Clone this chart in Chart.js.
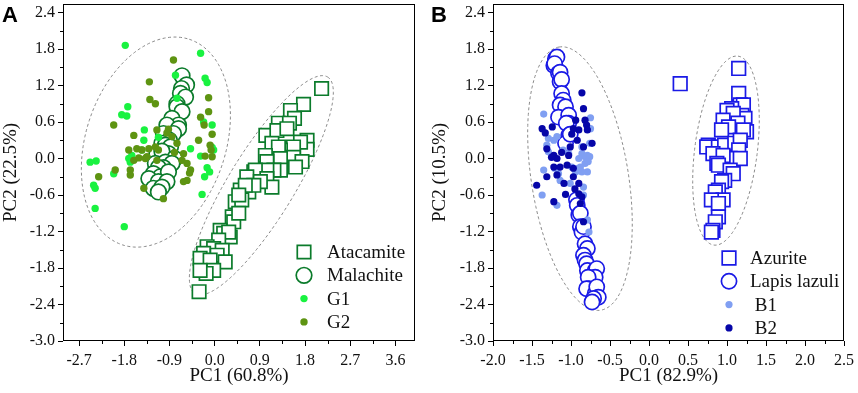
<!DOCTYPE html>
<html>
<head>
<meta charset="utf-8">
<script src="https://cdn.jsdelivr.net/npm/chart.js@4.4.1/dist/chart.umd.min.js"></script>
<style>
	html, body { margin: 0; padding: 0; background: #fff; }
	#wrap { position: relative; width: 858px; height: 393px; overflow: hidden; }
	canvas { position: absolute; top: 0; }
	#chartA { left: 0; }
	#chartB { left: 429px; }
</style>
</head>
<body>
<div id="wrap">
	<canvas id="chartA" width="429" height="393"></canvas>
	<canvas id="chartB" width="429" height="393"></canvas>
</div>
<script>
//-----------------Data-------------------//
const yTicks = [-3.0, -2.4, -1.8, -1.2, -0.6, 0.0, 0.6, 1.2, 1.8, 2.4];
const xTicksA = [-2.7, -1.8, -0.9, 0.0, 0.9, 1.8, 2.7, 3.6];
const xTicksB = [-2.0, -1.5, -1.0, -0.5, 0.0, 0.5, 1.0, 1.5, 2.0, 2.5];

// panel A: PC1 / PC2 scores
const atacamite = [[2.13,1.15],[1.77,0.89],[1.51,0.79],[1.59,0.66],[1.27,0.58],[1.49,0.58],[1.02,0.38],[1.24,0.46],[1.44,0.49],[1.84,0.30],[1.84,0.15],[1.71,0.27],[1.57,0.19],[1.31,0.14],[1.14,0.25],[1.27,0.19],[1.57,0.02],[1.74,-0.05],[1.01,0.05],[1.31,0.00],[1.04,-0.05],[1.31,-0.19],[1.61,-0.14],[1.18,-0.19],[0.78,-0.22],[1.04,-0.19],[0.81,-0.19],[0.75,-0.41],[1.04,-0.33],[1.14,-0.47],[0.64,-0.30],[0.91,-0.38],[0.51,-0.52],[0.68,-0.55],[0.78,-0.44],[0.61,-0.44],[0.41,-0.71],[0.54,-0.68],[0.48,-0.60],[0.35,-0.96],[0.38,-1.04],[0.48,-0.90],[0.11,-1.18],[0.18,-1.23],[0.31,-1.29],[0.28,-1.21],[0.08,-1.34],[-0.15,-1.45],[-0.02,-1.48],[0.15,-1.51],[-0.22,-1.56],[0.05,-1.59],[-0.29,-1.64],[-0.09,-1.67],[0.21,-1.70],[-0.02,-1.84],[-0.17,-1.89],[-0.29,-1.84],[-0.31,-2.19]];
const malachite = [[-0.65,1.36],[-0.56,1.21],[-0.66,1.15],[-0.68,1.07],[-0.58,1.01],[-0.75,0.90],[-0.75,0.85],[-0.65,0.77],[-0.85,0.66],[-0.72,0.55],[-0.95,0.55],[-0.72,0.49],[-0.82,0.41],[-1.02,0.41],[-0.90,0.30],[-1.05,0.25],[-0.98,0.22],[-0.88,0.19],[-1.15,0.08],[-0.92,0.08],[-1.05,0.12],[-0.80,0.00],[-1.18,-0.08],[-0.98,-0.06],[-0.85,-0.08],[-1.02,-0.15],[-1.12,-0.15],[-1.22,-0.25],[-1.08,-0.30],[-0.92,-0.22],[-1.31,-0.33],[-1.12,-0.38],[-0.95,-0.38],[-1.22,-0.49],[-1.05,-0.47],[-1.12,-0.55]];
const g1 = [[-1.78,1.86],[-0.28,1.73],[-0.78,1.37],[-0.19,1.32],[-0.15,1.25],[-0.75,0.99],[-1.73,0.85],[-1.85,0.72],[-1.75,0.70],[-0.22,0.60],[-0.05,0.55],[-1.40,0.47],[-1.41,0.30],[-1.45,0.14],[-0.48,0.16],[-0.28,0.04],[-0.02,0.14],[-0.05,0.18],[-0.15,-0.15],[-0.10,-0.22],[-0.20,-0.30],[-0.25,-0.59],[-1.71,0.00],[-1.68,-0.06],[-2.48,-0.06],[-2.36,-0.04],[-2.01,-0.25],[-2.41,-0.44],[-2.38,-0.49],[-2.38,-0.82],[-1.80,-1.12],[-1.12,0.35],[-1.65,0.05]];
const g2 = [[-0.82,1.62],[-1.30,1.26],[-1.29,0.97],[-1.18,0.90],[-2.01,0.55],[-1.61,0.38],[-0.12,1.00],[-0.12,0.77],[-0.28,0.68],[-0.21,0.55],[-0.05,0.40],[-0.32,0.30],[-0.09,0.22],[-0.07,0.14],[-0.19,0.04],[-0.05,0.03],[-1.15,0.47],[-0.92,0.48],[-0.85,0.36],[-0.95,0.42],[-0.62,0.08],[-0.65,-0.03],[-0.55,-0.08],[-0.48,-0.19],[-0.50,-0.24],[-0.55,-0.36],[-0.62,-0.38],[-1.71,0.14],[-1.55,0.16],[-1.45,0.14],[-1.31,0.16],[-1.18,0.19],[-1.61,-0.03],[-1.51,0.01],[-1.38,0.00],[-1.35,0.03],[-1.15,-0.03],[-1.98,-0.19],[-1.68,-0.19],[-1.68,-0.27],[-2.31,-0.30],[-1.41,-0.49],[-1.02,-0.66],[-1.12,0.14],[-0.75,0.25],[-0.80,0.10]];

// panel B: PC1 / PC2 scores
const azurite = [[0.40,1.23],[1.15,1.48],[1.15,1.07],[1.17,0.88],[1.21,0.88],[1.06,0.82],[1.00,0.79],[1.19,0.71],[1.23,0.66],[1.08,0.74],[0.95,0.63],[1.14,0.58],[1.02,0.52],[1.25,0.44],[1.21,0.47],[0.93,0.47],[0.76,0.22],[0.74,0.19],[0.89,0.19],[0.97,0.22],[1.10,0.25],[1.17,0.30],[1.15,0.14],[0.82,0.08],[1.04,0.00],[1.17,0.00],[0.95,0.05],[0.87,-0.08],[0.89,-0.11],[1.04,-0.19],[1.08,-0.25],[0.97,-0.36],[0.93,-0.38],[0.89,-0.52],[0.85,-0.55],[0.95,-0.68],[0.80,-0.68],[0.89,-0.74],[0.89,-0.96],[0.85,-1.04],[0.82,-1.18],[0.80,-1.21]];
const lapis = [[-1.20,1.64],[-1.18,1.67],[-1.22,1.53],[-1.21,1.56],[-1.16,1.40],[-1.14,1.42],[-1.14,1.26],[-1.12,1.30],[-1.12,1.07],[-1.10,0.96],[-1.14,0.88],[-1.07,0.85],[-1.16,0.68],[-1.03,0.71],[-1.03,0.58],[-1.06,0.58],[-1.03,0.38],[-1.07,0.25],[-1.01,0.40],[-0.93,-0.68],[-0.92,-0.77],[-0.90,-0.93],[-0.88,-0.90],[-0.88,-1.12],[-0.86,-1.21],[-0.84,-1.12],[-0.82,-1.40],[-0.79,-1.48],[-0.84,-1.59],[-0.82,-1.67],[-0.80,-1.73],[-0.79,-1.84],[-0.69,-1.84],[-0.67,-1.81],[-0.69,-1.95],[-0.78,-1.95],[-0.77,-2.14],[-0.80,-2.14],[-0.69,-2.22],[-0.67,-2.11],[-0.65,-2.28],[-0.71,-2.30],[-0.73,-2.36]];
const b1 = [[-1.35,0.73],[-0.75,0.67],[-0.75,0.49],[-1.29,0.33],[-1.31,0.22],[-1.29,0.11],[-1.18,0.36],[-1.22,0.30],[-0.86,0.19],[-0.76,0.25],[-0.86,0.08],[-0.79,0.05],[-0.90,0.00],[-0.82,0.03],[-0.76,0.03],[-0.82,-0.08],[-0.78,-0.05],[-0.79,-0.22],[-0.94,-0.22],[-0.86,-0.22],[-0.88,-0.14],[-0.99,-0.14],[-0.91,-0.16],[-1.35,-0.19],[-1.21,-0.16],[-1.16,-0.25],[-1.14,-0.36],[-1.01,-0.41],[-0.84,-0.47],[-1.37,-0.60],[-1.18,-0.77],[-0.79,-1.01],[-0.77,-1.21],[-1.10,0.14],[-1.03,0.08],[-0.84,-0.60]];
const b2 = [[-0.86,1.08],[-0.84,0.82],[-0.82,0.63],[-0.80,0.55],[-0.79,0.47],[-0.90,0.47],[-0.94,0.63],[-0.97,0.49],[-1.37,0.49],[-1.33,0.42],[-1.24,0.52],[-0.92,0.30],[-1.01,0.19],[-1.03,0.05],[-0.73,0.25],[-0.84,0.19],[-1.31,0.16],[-1.22,0.05],[-1.18,0.00],[-1.25,0.02],[-1.22,-0.14],[-1.14,-0.14],[-1.05,-0.11],[-0.97,-0.16],[-1.31,-0.30],[-1.18,-0.27],[-0.97,-0.30],[-0.90,-0.41],[-1.44,-0.44],[-1.09,-0.41],[-1.07,-0.59],[-0.90,-0.58],[-0.88,-0.74],[-0.86,-0.63],[-1.22,-0.71],[-0.84,-1.04],[-0.95,-0.50],[-1.12,0.10],[-0.99,0.40]];

// confidence ellipses: centre x, centre y, half major axis (dx, dy), half minor axis (dx, dy)
const ellipsesA = [[-1.17, 0.27, 0.665, 1.69, 1.327, -0.355], [0.93, -0.44, 1.32, 1.78, 0.56, -0.283]];
const ellipsesB = [[-0.885, -0.33, -0.267, 2.163, 0.615, 0.125], [0.987, 0.13, 0.154, 1.553, 0.398, -0.065]];
//-----------------Data-------------------//

const SERIF = "'Liberation Serif', 'Times New Roman', serif";
const GREEN = '#0b7b2b', BLUE = '#1a1ae6';

const fmt = (v) => Math.abs(v) < 1e-9 ? '0.0' : v.toFixed(1);

function drawMarker(ctx, style, x, y, r, fill, edge, lw) {
	ctx.beginPath();
	if (style === 'rect') {
		const h = r * Math.SQRT1_2;
		ctx.rect(x - h, y - h, 2 * h, 2 * h);
	} else {
		ctx.arc(x, y, r, 0, Math.PI * 2);
	}
	ctx.fillStyle = fill;
	ctx.fill();
	if (lw > 0) {
		ctx.lineWidth = lw;
		ctx.strokeStyle = edge;
		ctx.stroke();
	}
}

const framePlugin = {
	id: 'frame',
	beforeDatasetsDraw(chart, args, opts) {
		const { ctx, chartArea: a, scales: { x, y } } = chart;
		ctx.save();
		ctx.beginPath();
		ctx.rect(a.left, a.top, a.right - a.left, a.bottom - a.top);
		ctx.clip();
		ctx.setLineDash([3, 2.5]);
		ctx.strokeStyle = '#8a8a8a';
		ctx.lineWidth = 1;
		opts.ellipses.forEach(([cx, cy, ux, uy, vx, vy]) => {
			ctx.beginPath();
			for (let i = 0; i <= 200; i++) {
				const t = i / 200 * Math.PI * 2;
				const px = x.getPixelForValue(cx + ux * Math.cos(t) + vx * Math.sin(t));
				const py = y.getPixelForValue(cy + uy * Math.cos(t) + vy * Math.sin(t));
				i ? ctx.lineTo(px, py) : ctx.moveTo(px, py);
			}
			ctx.closePath();
			ctx.stroke();
		});
		ctx.restore();
	},
	afterDraw(chart, args, opts) {
		const { ctx, chartArea: a, scales: { x, y } } = chart;
		ctx.save();
		// box
		const l = Math.round(a.left) + 0.5, r = Math.round(a.right) - 0.5;
		const t = Math.round(a.top) + 0.5, b = Math.round(a.bottom) - 0.5;
		ctx.strokeStyle = '#000';
		ctx.lineWidth = 1;
		ctx.strokeRect(l, t, r - l, b - t);
		// minor ticks halfway between the major ones
		ctx.beginPath();
		const minors = (ticks) => {
			const out = [];
			const step = ticks[1] - ticks[0];
			for (let v = ticks[0] - step / 2; v < ticks[ticks.length - 1] + step; v += step) out.push(v);
			return out;
		};
		minors(opts.xTicks).forEach(v => {
			if (v < x.min || v > x.max) return;
			const px = Math.round(x.getPixelForValue(v)) + 0.5;
			ctx.moveTo(px, b);
			ctx.lineTo(px, b + 3.5);
		});
		minors(yTicks).forEach(v => {
			if (v < y.min || v > y.max) return;
			const py = Math.round(y.getPixelForValue(v)) + 0.5;
			ctx.moveTo(l, py);
			ctx.lineTo(l - 3.5, py);
		});
		ctx.stroke();
		// legend inside the plot
		const lg = opts.legend;
		ctx.font = '19px ' + SERIF;
		ctx.textBaseline = 'middle';
		ctx.textAlign = 'left';
		chart.data.datasets.forEach((ds, i) => {
			const mx = a.right - lg.right;
			const my = a.bottom - lg.bottom + i * 23.3;
			drawMarker(ctx, ds.pointStyle, mx, my, ds.pointRadius, ds.backgroundColor, ds.borderColor, ds.borderWidth);
			ctx.fillStyle = '#111';
			ctx.fillText(ds.label, mx + lg.gap, my + 1);
		});
		// panel letter
		ctx.font = "bold 22px 'Liberation Sans', Arial, sans-serif";
		ctx.textBaseline = 'alphabetic';
		ctx.fillStyle = '#000';
		ctx.fillText(opts.letter, 2, 22);
		ctx.restore();
	}
};

function makeChart(id, cfg) {
	return new Chart(document.getElementById(id), {
		type: 'scatter',
		data: {
			datasets: cfg.series.map(s => ({
				label: s.label,
				data: s.data.map(([x, y]) => ({ x, y })),
				pointStyle: s.style,
				pointRadius: s.r,
				pointHoverRadius: s.r,
				backgroundColor: s.fill,
				borderColor: s.edge,
				borderWidth: s.lw,
				order: s.order
			}))
		},
		options: {
			responsive: false,
			animation: false,
			devicePixelRatio: 1,
			events: [],
			layout: { autoPadding: false, padding: { top: 4, right: 14, left: 0, bottom: 0 } },
			plugins: {
				legend: { display: false },
				tooltip: { enabled: false },
				frame: { ellipses: cfg.ellipses, xTicks: cfg.xTicks, legend: cfg.legend, letter: cfg.letter }
			},
			scales: {
				x: {
					type: 'linear',
					min: cfg.xMin,
					max: cfg.xMax,
					afterBuildTicks: (s) => { s.ticks = cfg.xTicks.map(v => ({ value: v })); },
					afterFit: (s) => { s.height = 52; s.paddingLeft = 0; s.paddingRight = 0; },
					border: { display: false },
					grid: { drawOnChartArea: false, drawTicks: true, tickLength: 5, tickColor: '#000', color: '#000' },
					ticks: { color: '#111', padding: 5, maxRotation: 0, font: { family: SERIF, size: 16 }, callback: fmt },
					title: { display: true, text: cfg.xTitle, color: '#111', padding: { top: 0, bottom: 6 }, font: { family: SERIF, size: 19 } }
				},
				y: {
					type: 'linear',
					min: -3.0,
					max: 2.54,
					afterBuildTicks: (s) => { s.ticks = yTicks.map(v => ({ value: v })); },
					afterFit: (s) => { s.width = cfg.yWidth; s.paddingTop = 0; s.paddingBottom = 0; },
					border: { display: false },
					grid: { drawOnChartArea: false, drawTicks: true, tickLength: 5, tickColor: '#000', color: '#000' },
					ticks: { color: '#111', padding: 3, font: { family: SERIF, size: 16 }, callback: fmt },
					title: { display: true, text: cfg.yTitle, color: '#111', padding: { top: 0, bottom: 0 }, font: { family: SERIF, size: 19 } }
				}
			}
		},
		plugins: [framePlugin]
	});
}

makeChart('chartA', {
	letter: 'A',
	xMin: -3.02, xMax: 3.99, xTicks: xTicksA, yWidth: 63,
	xTitle: 'PC1 (60.8%)', yTitle: 'PC2 (22.5%)',
	ellipses: ellipsesA,
	legend: { right: 111, bottom: 89, gap: 23 },
	series: [
		{ label: 'Atacamite', data: atacamite, style: 'rect', r: 9.5, fill: '#fff', edge: GREEN, lw: 1.7, order: 4 },
		{ label: 'Malachite', data: malachite, style: 'circle', r: 7.8, fill: '#fff', edge: GREEN, lw: 1.7, order: 3 },
		{ label: 'G1', data: g1, style: 'circle', r: 3.7, fill: '#19f240', edge: '#19f240', lw: 0, order: 2 },
		{ label: 'G2', data: g2, style: 'circle', r: 3.7, fill: '#5e9412', edge: '#5e9412', lw: 0, order: 1 }
	]
});

makeChart('chartB', {
	letter: 'B',
	xMin: -2.0, xMax: 2.5, xTicks: xTicksB, yWidth: 64,
	xTitle: 'PC1 (82.9%)', yTitle: 'PC2 (10.5%)',
	ellipses: ellipsesB,
	legend: { right: 115, bottom: 83, gap: 21 },
	series: [
		{ label: 'Azurite', data: azurite, style: 'rect', r: 9.6, fill: '#fff', edge: BLUE, lw: 1.7, order: 4 },
		{ label: 'Lapis lazuli', data: lapis, style: 'circle', r: 7.6, fill: '#fff', edge: BLUE, lw: 1.7, order: 3 },
		{ label: ' B1', data: b1, style: 'circle', r: 3.6, fill: '#809ff2', edge: '#809ff2', lw: 0, order: 2 },
		{ label: ' B2', data: b2, style: 'circle', r: 3.6, fill: '#0606a8', edge: '#0606a8', lw: 0, order: 1 }
	]
});
</script>
</body>
</html>
